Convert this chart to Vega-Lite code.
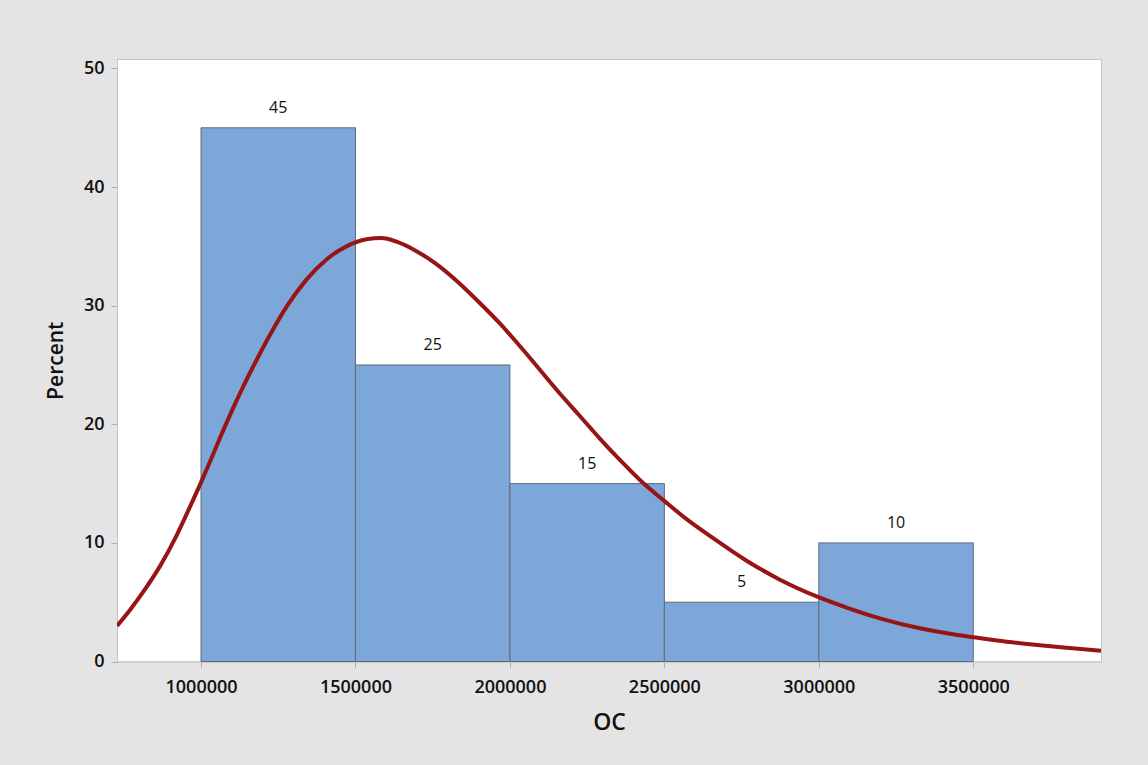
{
  "$schema": "https://vega.github.io/schema/vega-lite/v6.json",
  "autosize": {"type": "none"},
  "width": 984,
  "height": 602.5,
  "padding": {"left": 117, "top": 59, "right": 47, "bottom": 103.5},
  "background": "#e4e4e4",
  "config": {
    "view": {"fill": "white", "stroke": "#c4c4c4", "strokeWidth": 1},
    "font": "Open Sans"
  },
  "datasets": {
    "bars": [
      {"start": 1000000, "end": 1500000, "percent": 45},
      {"start": 1500000, "end": 2000000, "percent": 25},
      {"start": 2000000, "end": 2500000, "percent": 15},
      {"start": 2500000, "end": 3000000, "percent": 5},
      {"start": 3000000, "end": 3500000, "percent": 10}
    ],
    "fit": [
      {"oc": 728000, "pct": 3.0},
      {"oc": 770000, "pct": 4.35},
      {"oc": 812200, "pct": 5.85},
      {"oc": 866300, "pct": 8.0},
      {"oc": 920300, "pct": 10.6},
      {"oc": 963400, "pct": 13.0},
      {"oc": 1000000, "pct": 15.1},
      {"oc": 1028200, "pct": 16.8},
      {"oc": 1060600, "pct": 18.8},
      {"oc": 1102700, "pct": 21.3},
      {"oc": 1135000, "pct": 23.1},
      {"oc": 1179400, "pct": 25.4},
      {"oc": 1222500, "pct": 27.5},
      {"oc": 1276500, "pct": 29.9},
      {"oc": 1341300, "pct": 32.2},
      {"oc": 1406100, "pct": 33.9},
      {"oc": 1470800, "pct": 35.0},
      {"oc": 1535600, "pct": 35.6},
      {"oc": 1584200, "pct": 35.7},
      {"oc": 1632800, "pct": 35.4},
      {"oc": 1697500, "pct": 34.6},
      {"oc": 1762300, "pct": 33.5},
      {"oc": 1827100, "pct": 32.1},
      {"oc": 1891800, "pct": 30.5},
      {"oc": 1967300, "pct": 28.5},
      {"oc": 2032000, "pct": 26.6},
      {"oc": 2096800, "pct": 24.6},
      {"oc": 2161600, "pct": 22.6},
      {"oc": 2226400, "pct": 20.7},
      {"oc": 2291100, "pct": 18.8},
      {"oc": 2355900, "pct": 17.0},
      {"oc": 2420700, "pct": 15.3},
      {"oc": 2501600, "pct": 13.5},
      {"oc": 2571900, "pct": 12.0},
      {"oc": 2658000, "pct": 10.4},
      {"oc": 2766200, "pct": 8.5},
      {"oc": 2874100, "pct": 6.9},
      {"oc": 3001300, "pct": 5.4},
      {"oc": 3090000, "pct": 4.55},
      {"oc": 3197800, "pct": 3.64},
      {"oc": 3327400, "pct": 2.8},
      {"oc": 3435200, "pct": 2.29},
      {"oc": 3500000, "pct": 2.05},
      {"oc": 3608100, "pct": 1.67},
      {"oc": 3716000, "pct": 1.37},
      {"oc": 3802400, "pct": 1.15},
      {"oc": 3913500, "pct": 0.9}
    ]
  },
  "layer": [
    {
      "data": {"name": "bars"},
      "mark": {"type": "rect", "fill": "#7ca7d8", "stroke": "#5e6a7a", "strokeWidth": 1},
      "encoding": {
        "x": {
          "field": "start", "type": "quantitative",
          "scale": {"domain": [728000, 3913500], "nice": false, "zero": false},
          "axis": {
            "title": "OC",
            "values": [1000000, 1500000, 2000000, 2500000, 3000000, 3500000],
            "format": "d",
            "grid": false,
            "domainColor": "#c4c4c4",
            "tickColor": "#b0b0b0",
            "tickSize": 6,
            "labelFontSize": 18,
            "labelFontWeight": 600,
            "labelColor": "#111111",
            "labelPadding": 11,
            "titleFontSize": 23,
            "titleFontWeight": 600,
            "titleColor": "#111111",
            "titlePadding": 15
          }
        },
        "x2": {"field": "end"},
        "y": {
          "field": "percent", "type": "quantitative",
          "scale": {"domain": [0, 50.8], "nice": false},
          "axis": {
            "title": "Percent",
            "values": [0, 10, 20, 30, 40, 50],
            "grid": false,
            "domainColor": "#c4c4c4",
            "tickColor": "#b0b0b0",
            "tickSize": 6,
            "labelFontSize": 18,
            "labelFontWeight": 600,
            "labelColor": "#111111",
            "labelPadding": 7,
            "titleFontSize": 21,
            "titleFontWeight": 600,
            "titleColor": "#111111",
            "titlePadding": 17
          }
        },
        "y2": {"datum": 0}
      }
    },
    {
      "data": {"name": "bars"},
      "transform": [{"calculate": "(datum.start + datum.end) / 2", "as": "mid"}],
      "mark": {"type": "text", "fontSize": 16, "color": "#111111", "baseline": "alphabetic", "dy": -15},
      "encoding": {
        "x": {"field": "mid", "type": "quantitative"},
        "y": {"field": "percent", "type": "quantitative"},
        "text": {"field": "percent", "type": "quantitative"}
      }
    },
    {
      "data": {"name": "fit"},
      "mark": {"type": "line", "color": "#971515", "strokeWidth": 4, "interpolate": "monotone", "clip": true},
      "encoding": {
        "x": {"field": "oc", "type": "quantitative"},
        "y": {"field": "pct", "type": "quantitative"}
      }
    }
  ]
}
